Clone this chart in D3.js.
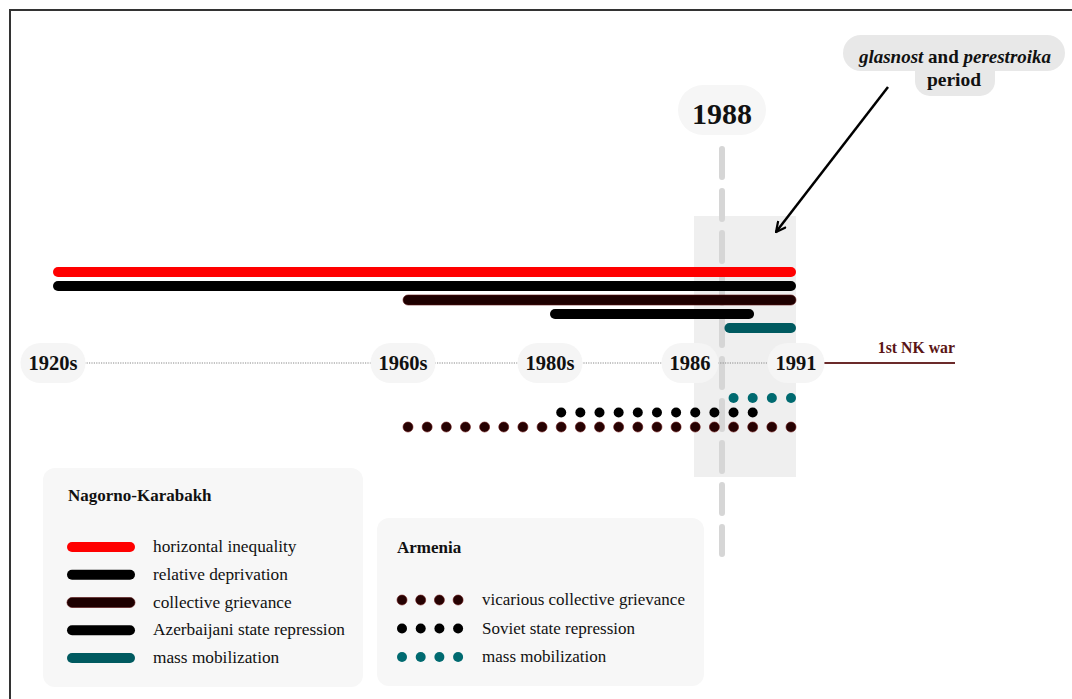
<!DOCTYPE html>
<html><head><meta charset="utf-8">
<script src="https://cdn.jsdelivr.net/npm/d3@7"></script>
<style>body{margin:0;background:#fff}svg{display:block}text{font-family:"Liberation Serif","Times New Roman",serif;fill:#111}</style>
</head><body><svg id="c" width="1072" height="699"></svg>
<script>
// ---- data ----
const tickLabels = ["1920s","1960s","1980s","1986","1991"];
const tickYears  = [1920, 1960, 1980, 1986, 1991];
const nkSeries = ["horizontal inequality","relative deprivation","collective grievance","Azerbaijani state repression","mass mobilization"];
const nkStart  = [1920, 1920, 1960, 1980, 1988.1];
const nkEnd    = [1991, 1991, 1991, 1989.3, 1991];
const nkColors = ["#ff0000","#000000","#1e0000","#000000","#005a60"];
const amSeries = ["vicarious collective grievance","Soviet state repression","mass mobilization"];
const amStart  = [1960, 1980, 1988];
const amEnd    = [1991, 1989.3, 1991];
const amColors = ["#260202","#000000","#006a70"];
const highlightYear = 1988;
const periodStart = 1986.25, periodEnd = 1991;
const warLabel = "1st NK war";

// ---- scales ----
const x = d3.scaleLinear().domain([1920,1960,1980,1986,1988,1991]).range([53,403,550,690,722,796]);
const yBar = d3.scalePoint().domain(nkSeries).range([272,328]);
const yDot = d3.scalePoint().domain(amSeries).range([427,398]);
const axisY = 363;

const svg = d3.select("#c");

// frame
svg.append("rect").attr("x",10).attr("y",10).attr("width",1100).attr("height",720)
  .attr("fill","none").attr("stroke","#333").attr("stroke-width",2);

// glasnost period shading
svg.append("rect").attr("x",x(periodStart)).attr("y",216).attr("width",x(periodEnd)-x(periodStart)).attr("height",261)
  .attr("fill","#efefef");

// 1988 dashed line
svg.append("line").attr("x1",x(highlightYear)).attr("x2",x(highlightYear)).attr("y1",149).attr("y2",554)
  .attr("stroke","#d6d6d6").attr("stroke-width",6).attr("stroke-linecap","round").attr("stroke-dasharray","28 14");

// 1988 label
svg.append("rect").attr("x",x(highlightYear)-44).attr("y",85).attr("width",88).attr("height",50).attr("rx",25)
  .attr("fill","#f6f6f6");
svg.append("text").attr("x",x(highlightYear)).attr("y",124).attr("text-anchor","middle")
  .attr("font-size",30).attr("font-weight","bold").text(String(highlightYear));

// NK bars
svg.append("g").selectAll("rect").data(nkSeries).join("rect")
  .attr("x",(d,i)=>x(nkStart[i])).attr("width",(d,i)=>x(nkEnd[i])-x(nkStart[i]))
  .attr("y",d=>yBar(d)-5).attr("height",10).attr("rx",5)
  .attr("fill",(d,i)=>nkColors[i])
  .attr("stroke",(d,i)=>i===2?"#5a1010":"none").attr("stroke-width",0.6);

// axis dotted line
svg.append("line").attr("x1",x(1920)).attr("x2",x(1991)).attr("y1",axisY).attr("y2",axisY)
  .attr("stroke","#888").attr("stroke-width",1).attr("stroke-dasharray","1.2 1.2");

// war line
svg.append("line").attr("x1",x(1991)+28).attr("x2",955).attr("y1",axisY).attr("y2",axisY)
  .attr("stroke","#6b2a2a").attr("stroke-width",2);
svg.append("text").attr("x",955).attr("y",353).attr("text-anchor","end").attr("font-size",15.8)
  .attr("font-weight","bold").style("fill","#5a1515").text(warLabel);

// ticks
const tg = svg.append("g").selectAll("g").data(tickYears).join("g")
  .attr("transform",d=>`translate(${x(d)},${axisY})`);
tg.append("text").attr("text-anchor","middle").attr("y",7).attr("font-size",20.5).attr("font-weight","bold")
  .text((d,i)=>tickLabels[i]);
tg.each(function(){
  const g=d3.select(this); const w=g.select("text").node().getComputedTextLength()+16;
  g.insert("rect","text").attr("x",-w/2).attr("y",-20).attr("width",w).attr("height",40).attr("rx",20).attr("fill","#f5f5f5");
});

// Armenia dots on shared grid
const gx0 = x(1960)+5, gx1 = x(1991)-5;
const nGrid = Math.floor((gx1-gx0)/19);
const grid = d3.range(nGrid+1).map(k=>gx0+k*(gx1-gx0)/nGrid);
amSeries.forEach((s,i)=>{
  const pts = grid.filter(c=>c-5>=x(amStart[i])-1 && c<=x(amEnd[i]));
  svg.append("g").selectAll("circle").data(pts).join("circle")
    .attr("cx",d=>d).attr("cy",yDot(s)).attr("r",5).attr("fill",amColors[i])
    .attr("stroke",i===0?"#6a1414":"none").attr("stroke-width",0.6);
});

// annotation
const ann = svg.append("g");
ann.append("rect").attr("x",843).attr("y",35).attr("width",222).attr("height",36).attr("rx",18).attr("fill","#e8e8e8");
ann.append("rect").attr("x",915).attr("y",55).attr("width",80).attr("height",41).attr("rx",15).attr("fill","#e8e8e8");
const t1 = ann.append("text").attr("x",955).attr("y",63).attr("text-anchor","middle").attr("font-size",19).attr("font-weight","bold");
t1.append("tspan").attr("font-style","italic").text("glasnost");
t1.append("tspan").text(" and ");
t1.append("tspan").attr("font-style","italic").text("perestroika");
ann.append("text").attr("x",954).attr("y",86).attr("text-anchor","middle").attr("font-size",19.5).attr("font-weight","bold").text("period");
svg.append("defs").append("marker").attr("id","ah").attr("viewBox","0 0 12 12").attr("refX",11).attr("refY",6)
  .attr("markerWidth",12).attr("markerHeight",12).attr("markerUnits","userSpaceOnUse").attr("orient","auto")
  .append("path").attr("d","M1,1 L11,6 L1,11").attr("fill","none").attr("stroke","#000").attr("stroke-width",2.2);
svg.append("line").attr("x1",888).attr("y1",87).attr("x2",776).attr("y2",232)
  .attr("stroke","#000").attr("stroke-width",2.5).attr("marker-end","url(#ah)");

// NK legend
const l1 = svg.append("g");
l1.append("rect").attr("x",43).attr("y",468).attr("width",320).attr("height",219).attr("rx",12).attr("fill","#f7f7f7");
l1.append("text").attr("x",68).attr("y",501).attr("font-size",17).attr("font-weight","bold").text("Nagorno-Karabakh");
const yL1 = d3.scalePoint().domain(nkSeries).range([547,658]);
const li1 = l1.selectAll("g.it").data(nkSeries).join("g").attr("class","it");
li1.append("rect").attr("x",67).attr("y",d=>yL1(d)-5).attr("width",68).attr("height",10).attr("rx",5)
  .attr("fill",(d,i)=>nkColors[i]).attr("stroke",(d,i)=>i===2?"#5a1010":"none").attr("stroke-width",0.6);
li1.append("text").attr("x",153).attr("y",d=>yL1(d)+5).attr("font-size",17.3).text(d=>d);

// Armenia legend
const l2 = svg.append("g");
l2.append("rect").attr("x",377).attr("y",518).attr("width",327).attr("height",168).attr("rx",12).attr("fill","#f7f7f7");
l2.append("text").attr("x",397).attr("y",553).attr("font-size",17).attr("font-weight","bold").text("Armenia");
const yL2 = d3.scalePoint().domain(amSeries).range([600,657]);
amSeries.forEach((s,i)=>{
  l2.append("g").selectAll("circle").data([0,1,2,3]).join("circle")
    .attr("cx",k=>402+k*18.7).attr("cy",yL2(s)).attr("r",5).attr("fill",amColors[i])
    .attr("stroke",i===0?"#6a1414":"none").attr("stroke-width",0.6);
  l2.append("text").attr("x",482).attr("y",yL2(s)+5).attr("font-size",17).text(s);
});
</script></body></html>
